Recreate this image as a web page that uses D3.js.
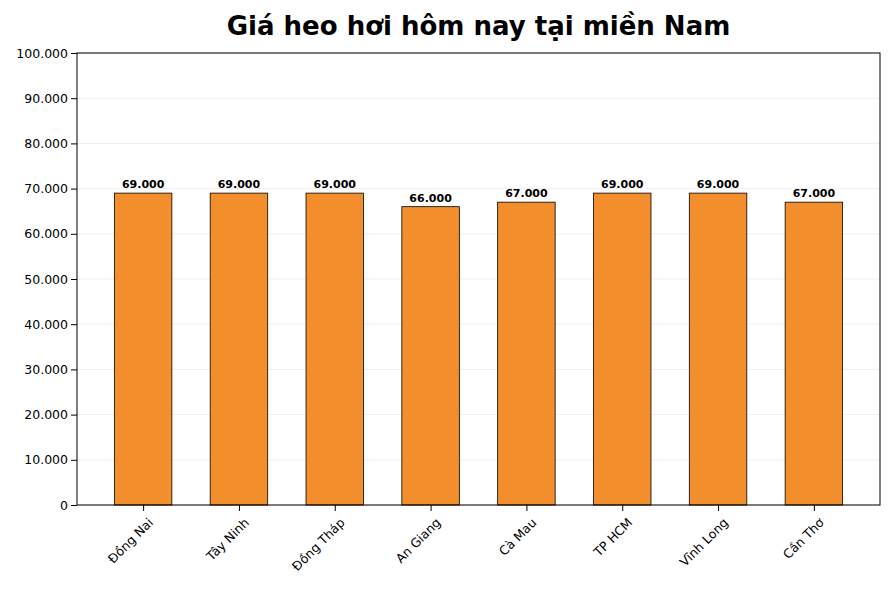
<!DOCTYPE html>
<html><head><meta charset="utf-8">
<script src="https://cdn.jsdelivr.net/npm/d3@7"></script>
<style>body{margin:0;background:#fff}text{font-family:"DejaVu Sans",sans-serif}</style>
</head><body><svg id="c" width="889" height="589"></svg>
<script>
const provinces = ["Đồng Nai","Tây Ninh","Đồng Tháp","An Giang","Cà Mau","TP HCM","Vĩnh Long","Cần Thơ"];
const prices = [69000,69000,69000,66000,67000,69000,69000,67000];
const yTicks = [0,10000,20000,30000,40000,50000,60000,70000,80000,90000,100000];

const fmt = v => v.toLocaleString("de-DE");
const L = 77, R = 880, T = 53, B = 505;
const svg = d3.select("#c");
const x = d3.scaleLinear().domain([-0.69, 7.69]).range([L, R]);
const y = d3.scaleLinear().domain([0, 100000]).range([B, T]);
const bw = x(0.6) - x(0);

// grid
svg.append("g").selectAll("line").data(yTicks).join("line")
  .attr("x1", L).attr("x2", R).attr("y1", d => y(d)).attr("y2", d => y(d))
  .attr("stroke", "#ebebeb").attr("stroke-width", 0.8);

svg.append("g").selectAll("rect").data(prices).join("rect")
  .attr("x", (d, i) => x(i) - bw / 2).attr("width", bw)
  .attr("y", d => y(d)).attr("height", d => B - y(d))
  .attr("fill", "#f28e2b").attr("stroke", "#000").attr("stroke-width", 0.8);

svg.append("g").selectAll("text").data(prices).join("text")
  .attr("x", (d, i) => x(i)).attr("y", d => y(d) - 5)
  .attr("text-anchor", "middle").attr("font-size", 11).attr("font-weight", "bold")
  .text(fmt);

const ya = svg.append("g").attr("transform", `translate(${L},0)`)
  .call(d3.axisLeft(y).tickValues(yTicks).tickFormat(fmt).tickSizeOuter(0));
ya.selectAll("text").attr("font-size", 12.5).attr("fill", "#000");
ya.select(".domain").remove();

const xa = svg.append("g").attr("transform", `translate(0,${B})`)
  .call(d3.axisBottom(x).tickValues(d3.range(provinces.length)).tickFormat(i => provinces[i]).tickSizeOuter(0));
xa.select(".domain").remove();
xa.selectAll("text").attr("font-size", 12.5).attr("fill", "#000")
  .attr("text-anchor", "end").attr("dx", 0).attr("dy", 0)
  .attr("transform", "translate(4,12) rotate(-45)");

svg.append("rect").attr("x", L).attr("y", T).attr("width", R - L).attr("height", B - T)
  .attr("fill", "none").attr("stroke", "#000").attr("stroke-width", 1);

svg.append("text").attr("x", (L + R) / 2).attr("y", 35).attr("text-anchor", "middle")
  .attr("font-size", 26).attr("font-weight", "bold").text("Giá heo hơi hôm nay tại miền Nam");
</script></body></html>
